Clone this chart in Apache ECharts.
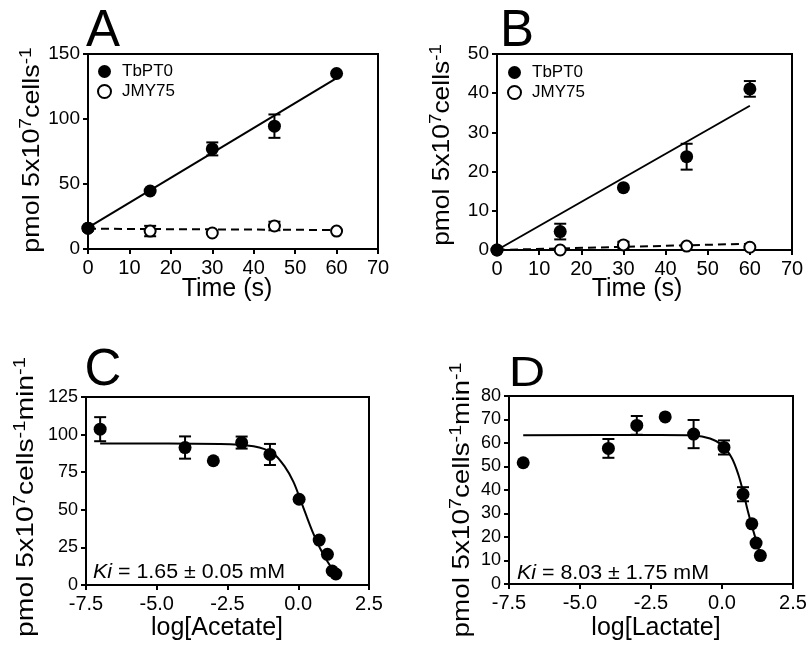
<!DOCTYPE html>
<html>
<head>
<meta charset="utf-8">
<script src="https://cdn.jsdelivr.net/npm/echarts@6/dist/echarts.min.js"></script>
<style>
  html, body { margin: 0; padding: 0; background: #fff; }
  #main { width: 812px; height: 650px; }
</style>
</head>
<body>
<div id="main"></div>
<script>
// 数据
const timeS = [0, 15, 30, 45, 60]
// A
const tbA = [16, 44.6, 77, 94.5, 135]
const tbAErr = [0, 0, 5, 9, 0]
const jmyA = [16, 13.8, 12.3, 17.7, 13.8]
const jmyAErr = [0, 4, 0, 3.3, 0]
const fitA = [[0, 16.5], [60, 131.5]]
const dashA = [[0, 15.6], [60, 14.6]]
// B
const tbB = [0, 4.7, 15.9, 23.8, 41.1]
const tbBErr = [0, 2, 0, 3.3, 2]
const jmyB = [0, 0, 1.3, 1.0, 0.7]
const jmyBErr = [0, 0, 0.8, 0, 0]
const fitB = [[0, 0], [60, 36.8]]
const dashB = [[0, 0], [60, 1.6]]
// C
const logAcetate = [-7, -4, -3, -2, -1, 0.03, 0.74, 1.03, 1.2, 1.33]
const rateAcetate = [103.6, 91.4, 82.6, 94.7, 86.8, 57, 29.9, 20.4, 9.3, 7.3]
const errAcetate = [8, 7.4, 0, 4, 7, 0, 0, 0, 0, 0]
const curveAcetate = [[-7, 94.1], [-2.76, 93.8], [-1.58, 92.2], [-0.88, 87.4], [-0.47, 78.5], [-0.17, 68.6],
    [0.06, 57.6], [0.30, 45.4], [0.53, 34.3], [0.77, 24.4], [1.0, 16.6], [1.3, 7.8]]
// D
const logLactate = [-7, -4, -3, -2, -1, 0.07, 0.74, 1.05, 1.2, 1.35]
const rateLactate = [51.6, 57.7, 67.5, 71.1, 63.8, 58.1, 38.2, 25.6, 17.4, 12.1]
const errLactate = [0, 4, 4, 0, 6, 3, 3, 0, 0, 0]
const curveLactate = [[-7, 63.3], [-2.18, 63.4], [-1.0, 63.2], [-0.42, 61.9], [0.0, 59.1], [0.35, 53.5],
    [0.58, 46.4], [0.76, 38.6], [0.90, 31.5], [1.06, 24.4], [1.23, 17.4], [1.35, 12.4]]

const FONT = '"Liberation Sans", Arial, sans-serif'

function pairs(xs, ys) {
    return xs.map((x, i) => [x, ys[i]])
}
function errData(xs, ys, es) {
    let out = []
    for (let i = 0; i < xs.length; i++) {
        if (es[i] > 0) out.push([xs[i], ys[i] - es[i], ys[i] + es[i]])
    }
    return out
}

// 误差线
function errRender(params, api) {
    const x = api.value(0)
    const top = api.coord([x, api.value(2)])
    const bot = api.coord([x, api.value(1)])
    const w = 6
    const st = { stroke: '#000', lineWidth: 2 }
    return {
        type: 'group',
        children: [
            { type: 'line', shape: { x1: top[0], y1: top[1], x2: bot[0], y2: bot[1] }, style: st },
            { type: 'line', shape: { x1: top[0] - w, y1: top[1], x2: top[0] + w, y2: top[1] }, style: st },
            { type: 'line', shape: { x1: bot[0] - w, y1: bot[1], x2: bot[0] + w, y2: bot[1] }, style: st }
        ]
    }
}

function xAxisOf(idx, min, max, interval, dec) {
    return {
        type: 'value', gridIndex: idx, min: min, max: max, interval: interval,
        axisLine: { onZero: false, lineStyle: { color: '#000', width: 2 } },
        axisTick: { length: 5, lineStyle: { color: '#000', width: 2 } },
        axisLabel: {
            color: '#000', fontFamily: FONT, fontSize: 20, margin: 9,
            formatter: v => dec ? v.toFixed(1) : String(v)
        },
        splitLine: { show: false }
    }
}
function yAxisOf(idx, min, max, interval, fs) {
    return {
        type: 'value', gridIndex: idx, min: min, max: max, interval: interval,
        axisLine: { onZero: false, lineStyle: { color: '#000', width: 2 } },
        axisTick: { length: 5, lineStyle: { color: '#000', width: 2 } },
        axisLabel: { color: '#000', fontFamily: FONT, fontSize: fs, margin: 8 },
        splitLine: { show: false }
    }
}

function filled(name, idx, data) {
    return {
        type: 'scatter', name: name, xAxisIndex: idx, yAxisIndex: idx, data: data,
        symbol: 'circle', symbolSize: 13, z: 5,
        itemStyle: { color: '#000', opacity: 1 }
    }
}
function open(name, idx, data) {
    return {
        type: 'scatter', name: name, xAxisIndex: idx, yAxisIndex: idx, data: data,
        symbol: 'circle', symbolSize: 11, z: 5,
        itemStyle: { color: '#fff', borderColor: '#000', borderWidth: 2, opacity: 1 }
    }
}
function fitLine(idx, data, dashed, smooth) {
    return {
        type: 'line', xAxisIndex: idx, yAxisIndex: idx, data: data, symbol: 'none',
        smooth: smooth ? 0.3 : false, silent: true, z: 2,
        lineStyle: { color: '#000', width: 2, type: dashed ? [8, 5] : 'solid' }
    }
}
function errSeries(idx, data) {
    return {
        type: 'custom', xAxisIndex: idx, yAxisIndex: idx, data: data,
        renderItem: errRender, z: 3, silent: true
    }
}

function legendOf(left, top) {
    return {
        left: left, top: top, orient: 'vertical', itemWidth: 13, itemHeight: 13, itemGap: 3,
        data: ['TbPT0', 'JMY75'], selectedMode: false,
        textStyle: { fontFamily: FONT, fontSize: 17, color: '#000', padding: [0, 0, 0, 6] }
    }
}

// y 轴标题 (上标)
function yTitle(x, y, withMin, scale) {
    const parts = '{m|pmol 5x10}{s|7}{m|cells}{s|-1}' + (withMin ? '{m|min}{s|-1}' : '')
    return {
        type: 'text', x: x, y: y, rotation: Math.PI / 2, scaleX: scale,
        style: {
            text: parts, align: 'center', verticalAlign: 'middle', lineHeight: 36,
            fontFamily: FONT, fill: '#000',
            rich: {
                m: { fontSize: 24, lineHeight: 26, verticalAlign: 'bottom', fontFamily: FONT, fill: '#000' },
                s: { fontSize: 17, lineHeight: 18, verticalAlign: 'top', fontFamily: FONT, fill: '#000' }
            }
        }
    }
}
function plainText(x, y, txt, size, align) {
    return {
        type: 'text', x: x, y: y,
        style: { text: txt, fontFamily: FONT, fontSize: size, fill: '#000', align: align || 'center', verticalAlign: 'middle' }
    }
}
function kiText(x, y, rest) {
    return {
        type: 'text', x: x, y: y, scaleX: 1.07,
        style: {
            text: '{i|Ki}{n|' + rest + '}', align: 'left', verticalAlign: 'middle',
            rich: {
                i: { fontFamily: FONT, fontSize: 20, fontStyle: 'italic', fill: '#000' },
                n: { fontFamily: FONT, fontSize: 20, fill: '#000' }
            }
        }
    }
}

let myChart = echarts.init(document.getElementById('main'), null, { renderer: 'canvas' })
myChart.setOption({
    backgroundColor: '#fff',
    animation: false,
    grid: [
        { left: 88, top: 54, width: 290, height: 195 },
        { left: 497, top: 54, width: 295, height: 196 },
        { left: 86, top: 397, width: 283, height: 188 },
        { left: 509, top: 396, width: 284, height: 188 }
    ].map(g => Object.assign(g, { show: true, borderColor: '#000', borderWidth: 2, backgroundColor: 'transparent' })),
    xAxis: [
        xAxisOf(0, 0, 70, 10, false),
        xAxisOf(1, 0, 70, 10, false),
        xAxisOf(2, -7.5, 2.5, 2.5, true),
        xAxisOf(3, -7.5, 2.5, 2.5, true)
    ],
    yAxis: [
        yAxisOf(0, 0, 150, 50, 19),
        yAxisOf(1, 0, 50, 10, 19),
        yAxisOf(2, 0, 125, 25, 18),
        yAxisOf(3, 0, 80, 10, 18)
    ],
    legend: [legendOf(92, 58), legendOf(502, 59)],
    series: [
        // A
        fitLine(0, fitA, false),
        fitLine(0, dashA, true),
        errSeries(0, errData(timeS, tbA, tbAErr)),
        errSeries(0, errData(timeS, jmyA, jmyAErr)),
        open('JMY75', 0, pairs(timeS, jmyA)),
        filled('TbPT0', 0, pairs(timeS, tbA)),
        // B
        fitLine(1, fitB, false),
        fitLine(1, dashB, true),
        errSeries(1, errData(timeS, tbB, tbBErr)),
        errSeries(1, errData(timeS, jmyB, jmyBErr)),
        open('JMY75', 1, pairs(timeS, jmyB)),
        filled('TbPT0', 1, pairs(timeS, tbB)),
        // C
        fitLine(2, curveAcetate, false, true),
        errSeries(2, errData(logAcetate, rateAcetate, errAcetate)),
        filled('Acetate', 2, pairs(logAcetate, rateAcetate)),
        // D
        fitLine(3, curveLactate, false, true),
        errSeries(3, errData(logLactate, rateLactate, errLactate)),
        filled('Lactate', 3, pairs(logLactate, rateLactate))
    ],
    graphic: [
        plainText(103, 32, 'A', 51),
        plainText(517, 32, 'B', 51),
        plainText(103, 371, 'C', 51),
        Object.assign(plainText(527, 374, 'D', 42), { scaleX: 1.2 }),
        yTitle(31, 150, false, 1.12),
        yTitle(441, 145, false, 1.1),
        yTitle(25, 497, true, 1.18),
        yTitle(461, 500, true, 1.16),
        plainText(227, 289, 'Time (s)', 25),
        plainText(637, 289, 'Time (s)', 25),
        plainText(217, 628, 'log[Acetate]', 25),
        plainText(656, 628, 'log[Lactate]', 25),
        kiText(93, 572, ' = 1.65 ± 0.05 mM'),
        kiText(517, 573, ' = 8.03 ± 1.75 mM')
    ]
})
</script>
</body>
</html>
